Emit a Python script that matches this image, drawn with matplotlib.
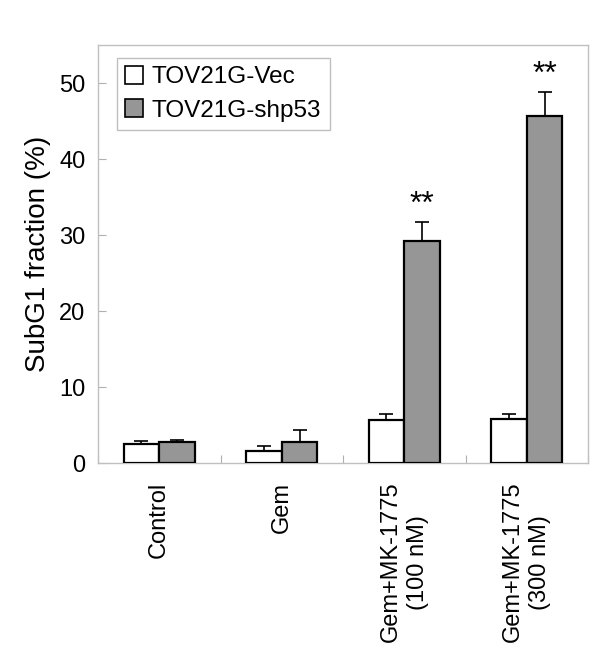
import matplotlib
matplotlib.use("Agg")
import matplotlib.pyplot as plt
import numpy as np
from matplotlib.patches import Patch

plt.rcParams['font.family'] = ['Liberation Sans', 'DejaVu Sans']

categories = ["Control", "Gem", "Gem+MK-1775\n(100 nM)", "Gem+MK-1775\n(300 nM)"]
series_names = ["TOV21G-Vec", "TOV21G-shp53"]
vec_values = [2.5, 1.6, 5.6, 5.8]
vec_err = [0.45, 0.7, 0.9, 0.65]
shp_values = [2.8, 2.8, 29.2, 45.6]
shp_err = [0.2, 1.6, 2.5, 3.2]
sig_labels = ["", "", "**", "**"]
yticks = [0, 10, 20, 30, 40, 50]

fig = plt.figure(figsize=(6.0, 6.67), dpi=100)
ax = fig.add_axes([98/600, 1-463/667, (588-98)/600, (463-45)/667])

x = np.arange(len(categories))
w = 0.29
ax.bar(x - w/2, vec_values, w, color='white', edgecolor='black', linewidth=1.6,
       yerr=[np.zeros(4), vec_err], error_kw=dict(ecolor='black', elinewidth=1.2, capsize=5, capthick=1.2),
       zorder=3)
ax.bar(x + w/2, shp_values, w, color='#969696', edgecolor='black', linewidth=1.6,
       yerr=[np.zeros(4), shp_err], error_kw=dict(ecolor='black', elinewidth=1.2, capsize=5, capthick=1.2),
       zorder=3)

for i, s in enumerate(sig_labels):
    if s:
        ax.text(x[i] + w/2, shp_values[i] + shp_err[i] + 0.3, s, ha='center', va='bottom',
                fontsize=23, color='black')

ax.set_xlim(-0.5, len(categories) - 0.5)
ax.set_ylim(0, 55)
ax.set_yticks(yticks)
ax.set_yticklabels([str(v) for v in yticks], fontsize=17)
ax.set_xticks(np.arange(len(categories) + 1) - 0.5, minor=False)
ax.set_xticklabels([])
ax.tick_params(axis='y', direction='in', length=6, color='#b0b0b0', pad=9)
ax.tick_params(axis='x', direction='in', length=6, color='#b0b0b0')
for i, c in enumerate(categories):
    ax.text(x[i], -0.045, c, transform=ax.get_xaxis_transform(), rotation=90,
            ha='center', va='top', fontsize=17, multialignment='center', linespacing=1.3)

for sp in ax.spines.values():
    sp.set_color('#c0c0c0')
    sp.set_linewidth(1.0)

ax.set_ylabel("SubG1 fraction (%)", fontsize=20, labelpad=6)

handles = [Patch(facecolor='white', edgecolor='black', linewidth=1.2),
           Patch(facecolor='#969696', edgecolor='black', linewidth=1.2)]
leg = ax.legend(handles, series_names, loc='upper left', bbox_to_anchor=(0.038, 0.97),
                fontsize=17.5, frameon=True, fancybox=False, handlelength=0.75, handleheight=0.75,
                handletextpad=0.35, borderpad=0.35, labelspacing=0.45, borderaxespad=0)
leg.get_frame().set_edgecolor('#b0b0b0')
leg.get_frame().set_linewidth(1.0)

fig.savefig("out.png", dpi=100)
